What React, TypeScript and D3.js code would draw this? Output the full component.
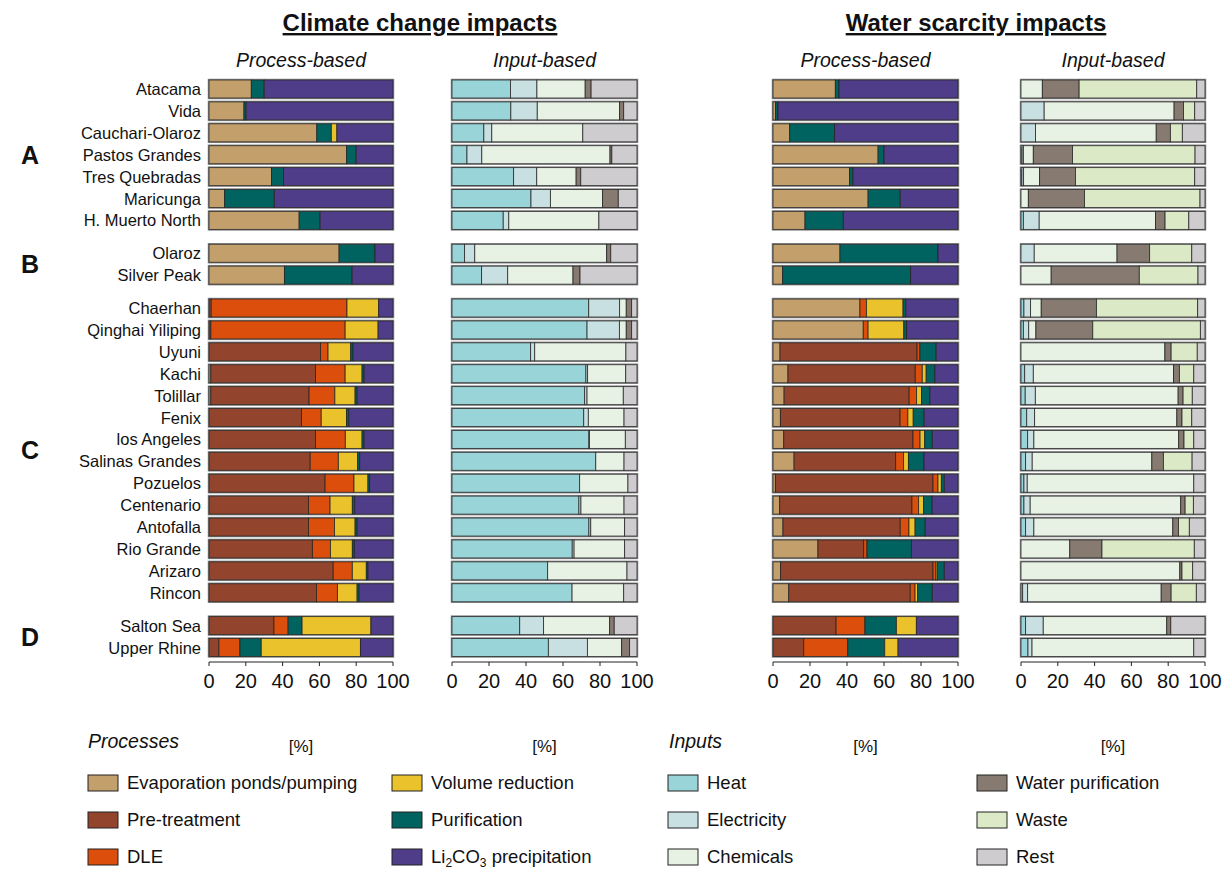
import * as d3 from 'd3';

const rows = [
  'Atacama', 'Vida', 'Cauchari-Olaroz', 'Pastos Grandes', 'Tres Quebradas', 'Maricunga', 'H. Muerto North',
  'Olaroz', 'Silver Peak',
  'Chaerhan', 'Qinghai Yiliping', 'Uyuni', 'Kachi', 'Tolillar', 'Fenix', 'los Angeles', 'Salinas Grandes',
  'Pozuelos', 'Centenario', 'Antofalla', 'Rio Grande', 'Arizaro', 'Rincon',
  'Salton Sea', 'Upper Rhine',
];
const groupLetters = ['A', 'B', 'C', 'D'];
const groupSizes = [7, 2, 14, 2];

const processKeys = ['Evaporation ponds/pumping', 'Pre-treatment', 'DLE', 'Volume reduction', 'Purification', 'Li2CO3 precipitation'];
const processColors = ['#c29f6b', '#93442d', '#dc4e0b', '#e9c22c', '#00635f', '#4f3d89'];
const inputKeys = ['Heat', 'Electricity', 'Chemicals', 'Water purification', 'Waste', 'Rest'];
const inputColors = ['#99d4d8', '#c9e0e3', '#e7f2e4', '#877b71', '#dbe9c6', '#cecccf'];

// stacking order of the process segments (C rows put volume reduction before purification)
const orderOther = [0, 1, 2, 4, 3, 5];
const orderC = [0, 1, 2, 3, 4, 5];
const orderInputs = [0, 1, 2, 3, 4, 5];

// [evap, pre-treatment, DLE, volume reduction, purification, Li2CO3]
const climateProcess = [
  [23, 0, 0, 0, 7, 70], [19, 0, 0, 0, 1.2, 79.8], [58.6, 0, 0, 3, 7.9, 30.5], [74.8, 0, 0, 0, 5.2, 20],
  [34, 0, 0, 0, 6.5, 59.5], [8.5, 0, 0, 0, 27, 64.5], [49, 0, 0, 0, 11.4, 39.6],
  [70.7, 0, 0, 0, 19.5, 9.8], [41, 0, 0, 0, 36.8, 22.2],
  [0, 1.2, 73.8, 17.2, 0, 7.8], [0, 1, 73, 17.9, 0, 8.1], [0, 60.6, 4.1, 12.3, 1.3, 21.7],
  [1, 56.9, 16.1, 9.2, 1.1, 15.7], [1, 53.4, 14, 11, 1.1, 19.5], [0, 50.3, 10.7, 13.7, 1.3, 24],
  [0, 57.9, 16.2, 9.1, 1.1, 15.7], [0, 55, 15.3, 10.5, 1.1, 18.1], [0, 63.1, 15.7, 7.6, 0.9, 12.7],
  [0, 54.1, 11.7, 12.1, 1.3, 20.8], [0, 54.1, 14.1, 11.2, 1.1, 19.5], [0, 56.2, 9.8, 11.9, 1.1, 21],
  [0, 67.5, 10.4, 7.6, 0.9, 13.6], [0, 58.4, 11.4, 10.7, 1.1, 18.4],
  [0, 35.3, 7.7, 37.4, 7.6, 12], [0, 5.4, 11.4, 53.9, 11.6, 17.7],
];

// [heat, electricity, chemicals, water purification, waste, rest]
const climateInput = [
  [31.6, 14.3, 26.1, 3.2, 0, 24.8], [31.8, 14.3, 44.5, 2.2, 0, 7.2], [17.2, 4.3, 49.2, 0, 0, 29.3],
  [8.1, 8, 69.3, 1, 0, 13.6], [33.3, 12.5, 21.3, 2.5, 0, 30.4], [42.7, 10.5, 28.2, 8.5, 0, 10.1],
  [27.7, 3, 48.7, 0, 0, 20.6],
  [6.8, 5.5, 71.3, 2.2, 0, 14.2], [16, 14.1, 35.3, 3.8, 0, 30.8],
  [73.9, 16.7, 3.6, 2.9, 0, 2.9], [73, 17.5, 3.7, 2.9, 0, 2.9], [42.5, 2.2, 49.3, 0, 0, 6],
  [72.4, 0.9, 20.6, 0, 0, 6.1], [71.7, 1.3, 19.6, 0, 0, 7.4], [71.2, 2.5, 19.3, 0, 0, 7],
  [74, 0.3, 19.4, 0, 0, 6.3], [77.7, 0, 15.3, 0, 0, 7], [69, 0, 26.1, 0, 0, 4.9],
  [68.6, 1.1, 23.3, 0, 0, 7], [74, 1, 18.3, 0, 0, 6.7], [65, 1, 27.3, 0, 0, 6.7],
  [51.7, 0, 42.9, 0, 0, 5.4], [64.9, 0, 27.9, 0, 0, 7.2],
  [36.6, 12.9, 35.7, 2.5, 0, 12.3], [52.1, 21.1, 18.5, 4.3, 0, 4],
];

const waterProcess = [
  [33.7, 0, 0, 0, 2, 64.3], [1.4, 0, 0, 0, 1.3, 97.3], [9, 0, 0, 0, 24.3, 66.7], [56.8, 0, 0, 0, 3.2, 40],
  [41.4, 0, 0, 0, 1.8, 56.8], [51.4, 0, 0, 0, 17.4, 31.2], [17.3, 0, 0, 0, 20.7, 62],
  [36.2, 0, 0, 0, 53, 10.8], [5.2, 0, 0, 0, 69.2, 25.6],
  [47, 0, 3.5, 19.8, 1.5, 28.2], [48.8, 0, 2.6, 19.3, 1.5, 27.8], [3.8, 74.1, 1.5, 0, 8.8, 11.8],
  [8.1, 68.8, 3.8, 2.1, 4.7, 12.5], [6, 67.6, 4, 2.7, 4.5, 15.2], [4, 64.7, 4.2, 2.9, 5.9, 18.3],
  [5.8, 69.9, 3.8, 2.5, 4.1, 13.9], [11.4, 54.9, 4.3, 2.6, 8.4, 18.4], [1.3, 85.2, 2.7, 1.8, 1.6, 7.4],
  [3.6, 71.5, 3.6, 2.7, 4.6, 14], [5.4, 63.4, 4.7, 3.3, 5.5, 17.7], [24.3, 24.7, 1.8, 0, 24, 25.2],
  [4.1, 82.4, 1.6, 0.7, 3.8, 7.4], [8.5, 65.7, 2.6, 1.4, 7.9, 13.9],
  [0, 34.1, 15.6, 10.8, 17, 22.5], [0, 16.6, 23.8, 7.2, 20, 32.4],
];

const waterInput = [
  [0, 0, 11.6, 20, 63.9, 4.5], [0, 12.6, 70.6, 5.1, 6.1, 5.6], [0, 7.9, 65.6, 7.7, 6.5, 12.3],
  [0.6, 0.7, 5.4, 21.3, 66.6, 5.4], [0.5, 0.9, 8.7, 19.5, 64.8, 5.6], [0, 0, 4, 30.5, 62.8, 2.7],
  [1.3, 8.6, 63.2, 5.2, 12.9, 8.8],
  [0, 7.2, 45, 17.7, 22.9, 7.2], [0, 0, 16.4, 47.9, 31.9, 3.8],
  [1.6, 3.6, 5.8, 30, 55, 4], [1.3, 2.9, 3.9, 30.9, 58.5, 2.5], [0, 0, 78.2, 3.4, 14.2, 4.2],
  [2, 4.7, 76.2, 3.2, 7.8, 6.1], [2.3, 5.5, 77.6, 2.7, 5, 6.9], [3.1, 4.3, 77.3, 2.8, 5.3, 7.2],
  [3.6, 3.4, 78.7, 2.9, 5.3, 6.1], [2.5, 3.6, 65, 6.3, 15.6, 7], [1.6, 1.8, 90.5, 0, 0, 6.1],
  [1.6, 3.4, 81.8, 2.4, 4.5, 6.3], [2.5, 4.5, 75.5, 3.1, 5.9, 8.5], [0, 0, 26.5, 17.5, 50.2, 5.8],
  [0, 0, 86.3, 1.2, 5.8, 6.7], [0.9, 2.7, 72.6, 5.4, 13.7, 4.7],
  [2.5, 9.6, 67.1, 2.2, 0, 18.6], [3.8, 2.2, 87.9, 0, 0, 6.1],
];

const ticks = [0, 20, 40, 60, 80, 100];

const FONT = '"Liberation Sans", Arial, sans-serif';
const barH = 18;

const groupOf: number[] = groupSizes.flatMap((n, g) => d3.range(n).map(() => g));
const slot = rows.map((_, i) => i + groupOf[i] * 0.5);
const y = d3.scaleLinear().domain([0, d3.max(slot) as number]).range([89, 647.5]);

const panels = [
  { data: climateProcess, colors: processColors, kind: 'process', x0: 209, x1: 393, sub: 'Process-based' },
  { data: climateInput, colors: inputColors, kind: 'input', x0: 452, x1: 637, sub: 'Input-based' },
  { data: waterProcess, colors: processColors, kind: 'process', x0: 773, x1: 958, sub: 'Process-based' },
  { data: waterInput, colors: inputColors, kind: 'input', x0: 1021, x1: 1205, sub: 'Input-based' },
];

function Panel({ p }: { p: (typeof panels)[number] }) {
  const x = d3.scaleLinear().domain([0, 100]).range([p.x0, p.x1]);
  const axisY = 662;
  return (
    <g>
      <text x={(p.x0 + p.x1) / 2} y={67} textAnchor="middle" fontStyle="italic" fontSize={19.5} fill="#111">
        {p.sub}
      </text>
      {p.data.map((vals, i) => {
        const total = d3.sum(vals);
        const order = p.kind === 'input' ? orderInputs : groupOf[i] === 2 ? orderC : orderOther;
        const ordered = order.map((k) => ({ k, v: (vals[k] / total) * 100 }));
        const ends = d3.cumsum(ordered.map((d) => d.v));
        const yc = y(slot[i]);
        return (
          <g key={i}>
            <rect x={x(0) - 0.5} y={yc - barH / 2 - 0.5} width={x(100) - x(0) + 1} height={barH + 1}
              fill="none" stroke="#8a8a8a" strokeWidth={1.5} />
            {ordered.map((d, j) =>
              d.v > 0 ? (
                <rect key={j} x={x(ends[j] - d.v)} y={yc - barH / 2} width={x(ends[j]) - x(ends[j] - d.v)}
                  height={barH} fill={p.colors[d.k]} stroke="#222" strokeWidth={0.9} strokeOpacity={0.85} />
              ) : null
            )}
          </g>
        );
      })}
      <line x1={x(0)} x2={x(100)} y1={axisY} y2={axisY} stroke="#222" strokeWidth={1} />
      {ticks.map((t) => (
        <g key={t}>
          <line x1={x(t)} x2={x(t)} y1={axisY} y2={axisY + 4} stroke="#222" />
          <text x={x(t)} y={688} textAnchor="middle" fontSize={20} fill="#111">{t}</text>
        </g>
      ))}
      <text x={(p.x0 + p.x1) / 2} y={752} textAnchor="middle" fontSize={17} fill="#111">[%]</text>
    </g>
  );
}

function LegendItem({ x, yy, color, label }: { x: number; yy: number; color: string; label: any }) {
  return (
    <g>
      <rect x={x} y={yy - 8} width={30} height={16} fill={color} stroke="#222" strokeWidth={1} />
      <text x={x + 39} y={yy + 6} fontSize={18.5} fill="#111">{label}</text>
    </g>
  );
}

export default function App() {
  const legendRows = [783, 820, 857];
  const groupStarts = groupSizes.map((_, g) => d3.sum(groupSizes.slice(0, g)));
  return (
    <svg width={1227} height={869} style={{ position: 'absolute', left: 0, top: 0, fontFamily: FONT }}>
      <rect width={1227} height={869} fill="#fff" />
      <text x={420} y={31} textAnchor="middle" fontWeight="bold" fontSize={24} textDecoration="underline" fill="#111">
        Climate change impacts
      </text>
      <text x={976} y={31} textAnchor="middle" fontWeight="bold" fontSize={24} textDecoration="underline" fill="#111">
        Water scarcity impacts
      </text>
      {rows.map((r, i) => (
        <text key={r} x={201} y={y(slot[i]) + 6} textAnchor="end" fontSize={16.5} fill="#111">{r}</text>
      ))}
      {groupLetters.map((g, gi) => {
        const a = groupStarts[gi];
        const b = a + groupSizes[gi] - 1;
        return (
          <text key={g} x={30} y={(y(slot[a]) + y(slot[b])) / 2 + 9} textAnchor="middle" fontWeight="bold" fontSize={25} fill="#111">
            {g}
          </text>
        );
      })}
      {panels.map((p, i) => <Panel key={i} p={p} />)}
      <text x={88} y={748} fontStyle="italic" fontSize={19.5} fill="#111">Processes</text>
      <text x={669} y={748} fontStyle="italic" fontSize={19.5} fill="#111">Inputs</text>
      {processKeys.map((k, i) => (
        <LegendItem key={k} x={i < 3 ? 88 : 392} yy={legendRows[i % 3]} color={processColors[i]}
          label={k === 'Li2CO3 precipitation' ? (<>Li<tspan fontSize={12} dy={4}>2</tspan><tspan dy={-4}>CO</tspan><tspan fontSize={12} dy={4}>3</tspan><tspan dy={-4}> precipitation</tspan></>) : k} />
      ))}
      {inputKeys.map((k, i) => (
        <LegendItem key={k} x={i < 3 ? 668 : 977} yy={legendRows[i % 3]} color={inputColors[i]} label={k} />
      ))}
    </svg>
  );
}
